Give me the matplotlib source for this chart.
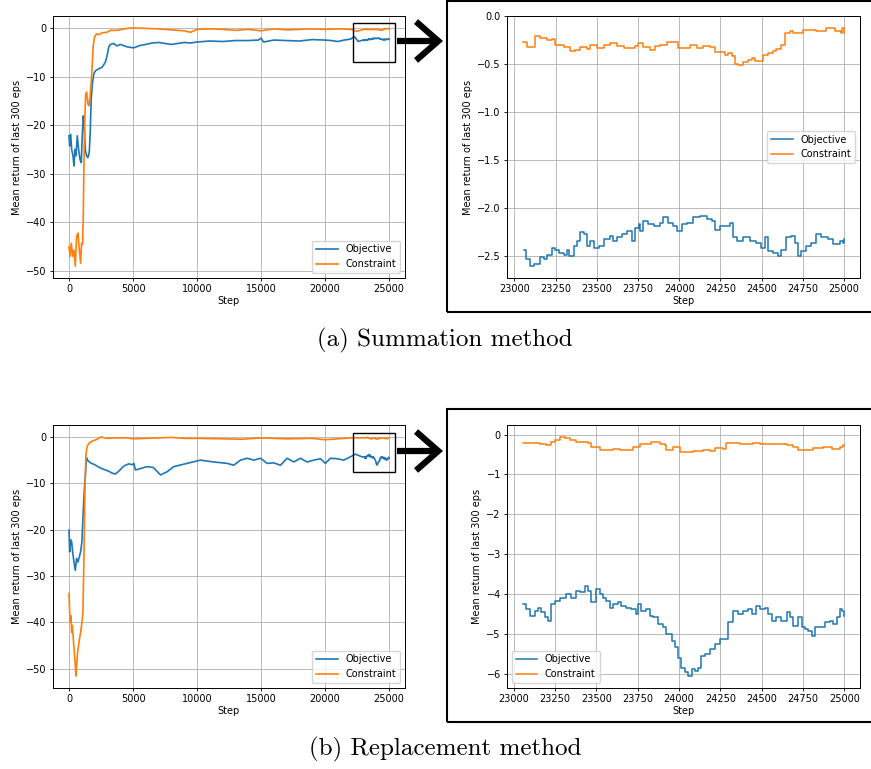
import matplotlib
matplotlib.use("Agg")
import matplotlib.pyplot as plt
from matplotlib.patches import Rectangle, FancyArrowPatch

# ---- (a) summation method, full run ----
a_obj_x = [0, 52, 130, 207, 311, 389, 466, 544, 648, 751, 855, 958, 1036, 1114, 1191, 1269,
           1373, 1476, 1580, 1658, 1735, 1839, 1943, 2072, 2331, 2590, 2849, 2979, 3108, 3238,
           3497, 3756, 4015, 4533, 5051, 5569, 6000, 6500, 7000, 7500, 8000, 8500, 9000, 9500,
           10000, 11000, 12000, 13000, 14000, 14800, 15000, 15200, 16000, 17000, 18000, 19000,
           20000, 20500, 21000, 21500, 22000, 22300, 22600]
a_obj_y = [-22.2, -24.3, -21.9, -25.0, -26.3, -28.4, -25.0, -26.3, -22.2, -25.0, -27.0, -27.7,
           -22.2, -18.1, -20.1, -25.0, -26.3, -26.7, -25.7, -21.5, -14.6, -11.2, -9.4, -8.8,
           -8.4, -8.1, -7.0, -5.7, -3.9, -3.4, -3.2, -3.7, -3.4, -3.9, -4.1, -3.6, -3.4, -3.1,
           -3.0, -3.2, -3.4, -3.2, -3.0, -3.1, -2.9, -2.7, -2.8, -2.6, -2.6, -2.5, -2.1, -2.9,
           -2.5, -2.6, -2.7, -2.4, -2.5, -2.6, -2.8, -2.5, -2.3, -1.8, -2.8]
a_con_x = [0, 78, 181, 285, 389, 492, 596, 699, 803, 907, 984, 1062, 1114, 1166, 1218, 1295,
           1373, 1476, 1554, 1632, 1735, 1813, 1891, 1994, 2150, 2331, 2590, 2979, 3238, 3756,
           4533, 5000, 6000, 7000, 8000, 9000, 9500, 10000, 11000, 12000, 13000, 14000, 15000,
           16000, 17000, 18000, 19000, 20000, 21000, 22000, 22500]
a_con_y = [-45.0, -47.0, -44.3, -47.0, -45.7, -49.0, -42.9, -42.2, -45.5, -48.4, -44.3, -44.5,
           -38.8, -28.4, -20.1, -13.9, -13.2, -15.7, -16.0, -14.3, -11.2, -7.7, -3.6, -1.9,
           -1.2, -1.4, -1.0, -0.9, -0.5, -0.5, -0.1, 0.0, -0.1, -0.2, -0.4, -0.6, -0.9, -0.3,
           -0.2, -0.3, -0.5, -0.3, -0.6, -0.2, -0.4, -0.3, -0.2, -0.3, -0.2, -0.3, -0.7]

# ---- (a) zoomed window ----
az_obj_x = [23057, 23067, 23097, 23117, 23157, 23178, 23198, 23228, 23248, 23268, 23299, 23319,
            23329, 23359, 23379, 23400, 23420, 23440, 23460, 23480, 23511, 23541, 23581, 23601,
            23622, 23652, 23682, 23712, 23733, 23753, 23763, 23783, 23813, 23844, 23884, 23904,
            23934, 23965, 23985, 24015, 24045, 24086, 24126, 24166, 24197, 24217, 24247, 24287,
            24308, 24324, 24348, 24388, 24429, 24469, 24499, 24520, 24540, 24570, 24600, 24620,
            24651, 24681, 24701, 24721, 24742, 24772, 24802, 24832, 24863, 24903, 24933, 24974,
            24994, 25000]
az_obj_y = [-2.43, -2.53, -2.60, -2.58, -2.51, -2.53, -2.48, -2.41, -2.43, -2.46, -2.48, -2.43,
            -2.50, -2.39, -2.34, -2.25, -2.27, -2.39, -2.34, -2.41, -2.39, -2.32, -2.29, -2.34,
            -2.30, -2.27, -2.23, -2.34, -2.20, -2.16, -2.23, -2.13, -2.16, -2.18, -2.15, -2.09,
            -2.15, -2.18, -2.23, -2.16, -2.15, -2.09, -2.08, -2.11, -2.13, -2.22, -2.18, -2.18,
            -2.15, -2.30, -2.34, -2.30, -2.34, -2.36, -2.41, -2.30, -2.44, -2.46, -2.50, -2.43,
            -2.30, -2.29, -2.36, -2.50, -2.44, -2.39, -2.36, -2.27, -2.30, -2.32, -2.37, -2.34,
            -2.36, -2.32]
az_con_x = [23052, 23077, 23127, 23157, 23198, 23228, 23248, 23299, 23339, 23369, 23400, 23440,
            23460, 23500, 23541, 23581, 23622, 23662, 23702, 23733, 23747, 23783, 23823, 23854,
            23884, 23924, 23975, 23995, 24045, 24066, 24106, 24146, 24187, 24217, 24247, 24277,
            24298, 24318, 24338, 24358, 24388, 24419, 24439, 24459, 24489, 24509, 24540, 24570,
            24590, 24620, 24641, 24671, 24691, 24731, 24752, 24832, 24893, 24943, 24984, 24990,
            24998]
az_con_y = [-0.27, -0.32, -0.20, -0.22, -0.25, -0.24, -0.30, -0.32, -0.36, -0.35, -0.32, -0.34,
            -0.30, -0.33, -0.30, -0.28, -0.31, -0.33, -0.33, -0.31, -0.28, -0.32, -0.35, -0.31,
            -0.30, -0.27, -0.27, -0.33, -0.33, -0.30, -0.33, -0.31, -0.32, -0.37, -0.37, -0.40,
            -0.38, -0.41, -0.50, -0.51, -0.48, -0.45, -0.43, -0.46, -0.46, -0.40, -0.38, -0.36,
            -0.34, -0.30, -0.17, -0.15, -0.17, -0.17, -0.14, -0.15, -0.12, -0.15, -0.17, -0.12,
            -0.17]

# ---- (b) replacement method, full run ----
b_obj_x = [0, 52, 130, 207, 285, 389, 492, 596, 699, 803, 907, 1010, 1088, 1191, 1295, 1373,
           1476, 1684, 1943, 2202, 2461, 2720, 3108, 3367, 3626, 3885, 4274, 4663, 4922, 5073,
           5180, 5361, 6100, 6600, 7150, 7670, 8190, 9230, 10270, 11310, 12350, 12870, 13400,
           13920, 14440, 14960, 15480, 16000, 16520, 17040, 17560, 18080, 18600, 19120, 19640,
           20030, 20420, 20940, 21460, 21980, 22370, 22890]
b_obj_y = [-20.1, -24.8, -22.2, -22.6, -24.8, -27.0, -28.8, -26.2, -27.0, -25.9, -24.8, -22.6,
           -17.5, -11.7, -7.4, -4.5, -5.1, -5.6, -5.9, -6.3, -6.7, -7.0, -7.4, -7.8, -8.0, -7.4,
           -6.3, -5.8, -6.0, -5.7, -7.1, -7.0, -6.4, -6.6, -8.2, -7.5, -6.4, -5.7, -5.0, -5.4,
           -5.7, -6.1, -5.0, -4.6, -5.0, -4.6, -5.7, -5.6, -6.1, -4.6, -5.4, -4.6, -5.4, -5.0,
           -4.7, -5.7, -4.6, -4.7, -5.0, -4.3, -3.7, -4.3]
b_con_x = [0, 52, 104, 155, 207, 259, 337, 414, 492, 544, 596, 673, 777, 907, 1010, 1088, 1166,
           1243, 1321, 1425, 1554, 1813, 2202, 2461, 2979, 3497, 4533, 5000, 6000, 7000, 8000,
           9000, 10000, 12000, 13500, 15000, 17000, 19000, 20000, 21000, 22000]
b_con_y = [-33.8, -37.8, -40.0, -38.6, -42.2, -40.7, -43.6, -46.5, -49.4, -51.6, -49.4, -46.5,
           -44.3, -42.2, -40.0, -37.8, -26.2, -11.7, -3.8, -2.0, -1.4, -0.9, -0.5, 0.0, -0.3,
           -0.2, -0.2, -0.4, -0.3, -0.2, -0.1, -0.3, -0.3, -0.4, -0.5, -0.2, -0.4, -0.3, -0.6,
           -0.4, -0.2]

# ---- (b) zoomed window ----
bz_obj_x = [23057, 23077, 23097, 23127, 23147, 23167, 23188, 23208, 23228, 23248, 23278, 23319,
            23349, 23379, 23400, 23430, 23450, 23470, 23500, 23521, 23541, 23561, 23581, 23601,
            23632, 23652, 23682, 23712, 23743, 23753, 23773, 23803, 23823, 23844, 23874, 23904,
            23924, 23955, 23975, 23995, 24015, 24035, 24055, 24076, 24096, 24116, 24136, 24156,
            24187, 24217, 24247, 24277, 24298, 24328, 24358, 24388, 24419, 24439, 24469, 24489,
            24520, 24540, 24560, 24590, 24620, 24651, 24671, 24691, 24721, 24742, 24762, 24782,
            24802, 24822, 24853, 24883, 24913, 24933, 24953, 24974, 24984, 24998]
bz_obj_y = [-4.25, -4.38, -4.55, -4.42, -4.34, -4.46, -4.59, -4.67, -4.25, -4.17, -4.09, -4.00,
            -4.09, -3.92, -3.96, -3.79, -3.92, -4.21, -3.88, -4.00, -4.09, -4.17, -4.34, -4.25,
            -4.21, -4.30, -4.34, -4.38, -4.50, -4.25, -4.42, -4.38, -4.55, -4.59, -4.76, -4.84,
            -5.01, -5.18, -5.34, -5.60, -5.85, -5.97, -6.06, -5.89, -5.93, -5.85, -5.55, -5.51,
            -5.39, -5.26, -5.13, -5.13, -4.71, -4.42, -4.51, -4.42, -4.38, -4.51, -4.30, -4.38,
            -4.34, -4.51, -4.67, -4.59, -4.67, -4.46, -4.59, -4.80, -4.59, -4.84, -4.88, -4.92,
            -5.05, -4.84, -4.84, -4.71, -4.67, -4.76, -4.59, -4.38, -4.42, -4.55]
bz_con_x = [23057, 23117, 23157, 23198, 23228, 23248, 23278, 23309, 23339, 23379, 23410, 23450,
            23470, 23521, 23561, 23601, 23642, 23682, 23722, 23763, 23803, 23833, 23884, 23914,
            23924, 23965, 23989, 24005, 24045, 24086, 24146, 24187, 24217, 24267, 24287, 24328,
            24368, 24449, 24489, 24570, 24651, 24691, 24721, 24772, 24812, 24873, 24923, 24974,
            24994, 24998]
bz_con_y = [-0.21, -0.22, -0.24, -0.25, -0.18, -0.13, -0.06, -0.09, -0.14, -0.18, -0.18, -0.22,
            -0.31, -0.38, -0.39, -0.35, -0.39, -0.39, -0.31, -0.24, -0.23, -0.18, -0.23, -0.27,
            -0.38, -0.31, -0.31, -0.44, -0.44, -0.41, -0.39, -0.41, -0.34, -0.35, -0.20, -0.21,
            -0.23, -0.20, -0.23, -0.23, -0.27, -0.31, -0.39, -0.38, -0.33, -0.31, -0.35, -0.31,
            -0.27, -0.25]

captions = ["(a) Summation method", "(b) Replacement method"]
ylabel = "Mean return of last 300 eps"

W, H = 871, 769
fig = plt.figure(figsize=(W / 100, H / 100), dpi=100)
plt.rcParams["font.size"] = 7


def px(x0, y0, x1, y1):
    # pixel box (top-left origin) -> figure fraction rect
    return [x0 / W, 1 - y1 / H, (x1 - x0) / W, (y1 - y0) / H]


def style(ax):
    ax.grid(True, color="#b0b0b0", lw=0.6)
    ax.set_axisbelow(True)
    for s in ax.spines.values():
        s.set_linewidth(0.7)
    ax.tick_params(length=2.5, width=0.6, labelsize=7, pad=2)
    ax.set_xlabel("Step", fontsize=7, labelpad=1)
    ax.set_ylabel(ylabel, fontsize=7, labelpad=3)


rows = [
    (16, 278, a_obj_x, a_obj_y, a_con_x, a_con_y, az_obj_x, az_obj_y, az_con_x, az_con_y,
     "center right", (-7.1, 0.95), 1, 312, 340),
    (425, 688, b_obj_x, b_obj_y, b_con_x, b_con_y, bz_obj_x, bz_obj_y, bz_con_x, bz_con_y,
     "lower left", (-7.6, 0.95), 409, 722, 749),
]

for i, (top, bot, ox, oy, cx, cy, zox, zoy, zcx, zcy, zloc, rect_y, ftop, fbot, capy) in enumerate(rows):
    ax = fig.add_axes(px(53, top, 405, bot))
    ax.plot(ox + zox, oy + zoy, color="tab:blue", lw=1.2, label="Objective")
    ax.plot(cx + zcx, cy + zcy, color="tab:orange", lw=1.2, label="Constraint")
    ax.set_xticks([0, 5000, 10000, 15000, 20000, 25000])
    ax.set_yticks([0, -10, -20, -30, -40, -50])
    style(ax)
    ax.add_patch(Rectangle((22200, rect_y[0]), 3300, rect_y[1] - rect_y[0],
                           fill=False, ec="black", lw=1.0, zorder=5))
    ax.legend(loc="lower right", fontsize=7, handlelength=2.2, borderpad=0.4)

    az = fig.add_axes(px(507, top, 860, bot))
    az.plot(zox, zoy, color="tab:blue", lw=1.1, drawstyle="steps-post", label="Objective")
    az.plot(zcx, zcy, color="tab:orange", lw=1.1, drawstyle="steps-post", label="Constraint")
    az.set_xticks([23000, 23250, 23500, 23750, 24000, 24250, 24500, 24750, 25000])
    style(az)
    az.legend(loc=zloc, fontsize=7, handlelength=2.2, borderpad=0.4)

    # frame round the zoomed panel
    fig.add_artist(Rectangle((447 / W, 1 - fbot / H), (W + 5 - 447) / W, (fbot - ftop) / H,
                             transform=fig.transFigure, fill=False, ec="black", lw=1.5,
                             clip_on=False))
    # arrow pointing from the box to the zoom
    ay = 1 - ((41 if i == 0 else 451)) / H
    fig.add_artist(FancyArrowPatch((397 / W, ay), (443 / W, ay), transform=fig.transFigure,
                                   arrowstyle="->,head_length=0.8,head_width=0.7",
                                   mutation_scale=20, lw=4.5, color="black",
                                   shrinkA=0, shrinkB=0, joinstyle="miter", capstyle="butt"))
    fig.text(445 / W, 1 - capy / H, captions[i], ha="center", va="center",
             fontsize=18, fontfamily="cmr10")

fig.savefig("out.png", dpi=100)
